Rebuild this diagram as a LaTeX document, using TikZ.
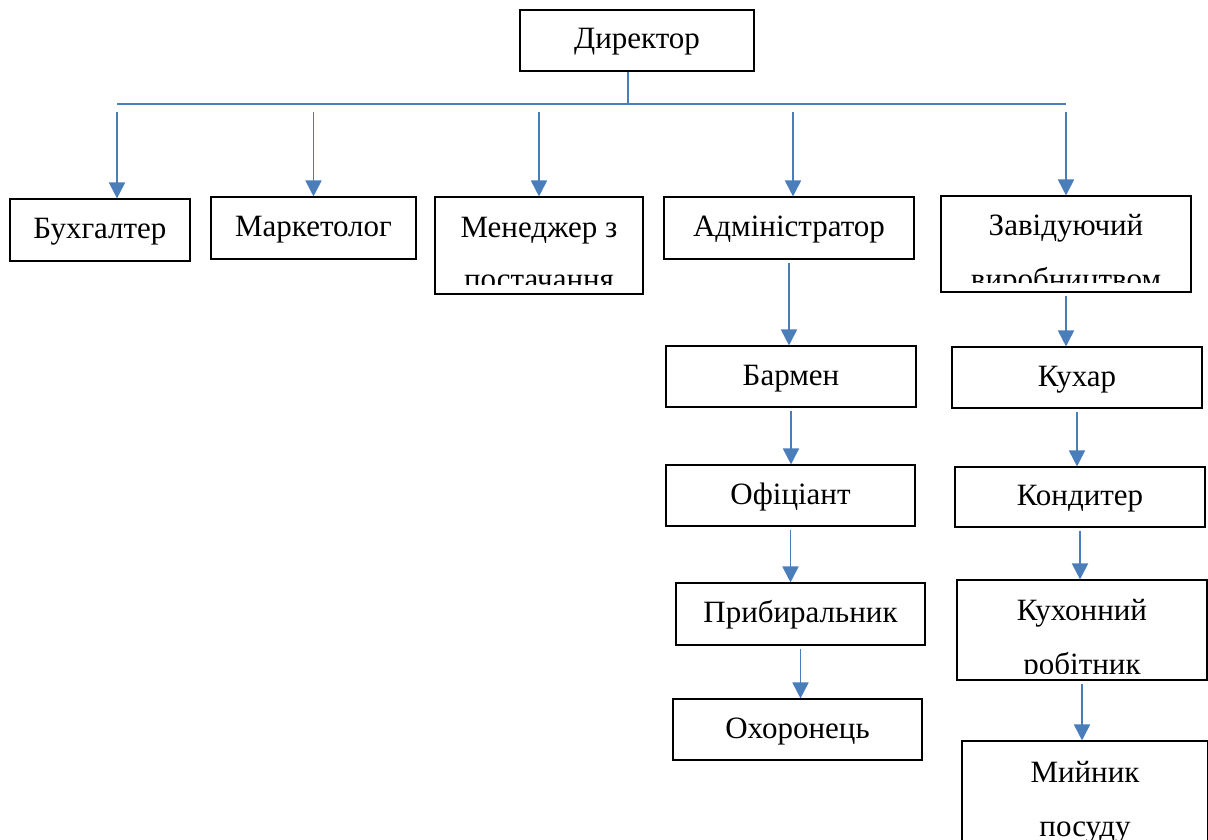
\documentclass[tikz,border=0pt]{standalone}
\usepackage{fontspec}
\setmainfont{Liberation Serif}
\usetikzlibrary{arrows.meta}
\definecolor{linkblue}{RGB}{74,126,187}
\tikzset{
  box/.style={draw, line width=1.1pt, inner sep=0pt, text height=22pt, text depth=5pt,
              font=\fontsize{31}{36}\selectfont},
  txt/.style={inner sep=0pt, anchor=base, font=\fontsize{31}{36}\selectfont},
  bus/.style={draw=linkblue, line width=1.8pt},
  link/.style={bus, -{Triangle[width=16pt,length=16pt]}}
}
\begin{document}
\begin{tikzpicture}[x=1pt,y=-1pt]
\useasboundingbox (0,0) rectangle (1208,840);
\clip (0,0) rectangle (1208,840);

% top
\node[box, minimum width=234pt, minimum height=61pt] (dir) at (637,40.5) {Директор};

% first row
\node[box, minimum width=180pt, minimum height=62pt] (buh) at (100,230) {Бухгалтер};
\node[box, minimum width=205pt, minimum height=62pt] (mark) at (313.5,228) {Маркетолог};
\node[box, minimum width=208pt, minimum height=97pt] (mgr) at (539,245.5) {};
\node[box, minimum width=250pt, minimum height=62pt] (admin) at (789,228) {Адміністратор};
\node[box, minimum width=250pt, minimum height=96pt] (zav) at (1066,244) {};

% left column
\node[box, minimum width=250pt, minimum height=61pt] (barm) at (791,376.5) {Бармен};
\node[box, minimum width=249pt, minimum height=61pt] (ofic) at (790.5,495.5) {Офіціант};
\node[box, minimum width=249pt, minimum height=62pt] (prib) at (800.5,614) {Прибиральник};
\node[box, minimum width=249pt, minimum height=61pt] (ohor) at (797.5,729.5) {Охоронець};

% right column
\node[box, minimum width=250pt, minimum height=61pt] (kuh) at (1077,377.5) {Кухар};
\node[box, minimum width=250pt, minimum height=60pt] (kond) at (1080,497) {Кондитер};
\node[box, minimum width=250pt, minimum height=100pt] (kuhrob) at (1082,630) {};
\node[box, minimum width=246pt, minimum height=118pt] (miyn) at (1085,800) {};

% two-line texts, cut by the box
\begin{scope}
\clip (mgr.north west) rectangle ([yshift=10pt]mgr.south east);
\node[txt] (mgr1) at (539,237) {Менеджер з};
\node[txt] (mgr2) at (539,289) {постачання};
\end{scope}
\begin{scope}
\clip (zav.north west) rectangle ([yshift=10pt]zav.south east);
\node[txt] (zav1) at (1066,235) {Завідуючий};
\node[txt] (zav2) at (1066,289) {виробництвом};
\end{scope}
\begin{scope}
\clip (kuhrob.north west) rectangle ([yshift=7pt]kuhrob.south east);
\node[txt] (kuhrob1) at (1082,620) {Кухонний};
\node[txt] (kuhrob2) at (1082,674) {робітник};
\end{scope}
\node[txt] (miyn1) at (1085,782) {Мийник};
\node[txt] (miyn2) at (1085,836) {посуду};

% connectors
\coordinate (trunk) at (628,104);
\coordinate (busL) at (117,104);
\coordinate (busR) at (1066,104);
\coordinate (drop) at (0,112);
\draw[bus] (trunk |- dir.south) -- (trunk);
\draw[bus] (busL) -- (busR);
\draw[link] (busL |- drop) -- (busL |- buh.north);
\draw[link] (mark.north |- drop) -- (mark.north);
\draw[link] (mgr.north |- drop) -- (mgr.north);
\draw[link] ([xshift=4pt]admin.north |- drop) -- ([xshift=4pt]admin.north);
\draw[link] (busR |- drop) -- (busR |- zav.north);
\foreach \a/\b in {admin/barm, barm/ofic, ofic/prib, prib/ohor,
                   zav/kuh, kuh/kond, kond/kuhrob, kuhrob/miyn}
  \draw[link] ([yshift=-3pt]\a.south) -- (\a.south |- \b.north);
\end{tikzpicture}
\end{document}
